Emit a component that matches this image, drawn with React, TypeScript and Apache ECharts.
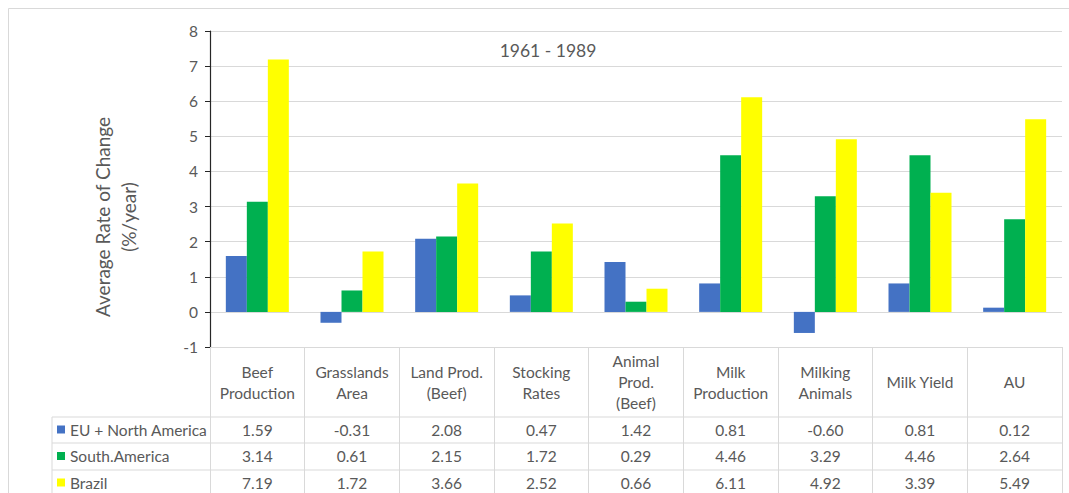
import React, { useEffect, useRef } from "react";
import * as echarts from "echarts";

const categories = [
  "Beef\nProduction",
  "Grasslands\nArea",
  "Land Prod.\n(Beef)",
  "Stocking\nRates",
  "Animal\nProd.\n(Beef)",
  "Milk\nProduction",
  "Milking\nAnimals",
  "Milk Yield",
  "AU",
];
const seriesNames = ["EU + North America", "South.America", "Brazil"];
const euNorthAmerica = [1.59, -0.31, 2.08, 0.47, 1.42, 0.81, -0.6, 0.81, 0.12];
const southAmerica = [3.14, 0.61, 2.15, 1.72, 0.29, 4.46, 3.29, 4.46, 2.64];
const brazil = [7.19, 1.72, 3.66, 2.52, 0.66, 6.11, 4.92, 3.39, 5.49];
const seriesColors = ["#4472C4", "#00B050", "#FFFF00"];
const chartTitle = "1961 - 1989";
const yTitle = "Average Rate of Change\n(%/year)";

export default function App() {
  const ref = useRef<HTMLDivElement>(null);
  useEffect(() => {
    if (!ref.current) return;
    const chart = echarts.init(ref.current, undefined, { renderer: "svg" });
    const W = 1069;
    const H = 493;
    const gridLeft = 210;
    const gridRight = 1062;
    const gridTop = 31;
    const axisY = 347;
    const colW = (gridRight - gridLeft) / categories.length;
    const tableLeft = 52;
    const rowLines = [417, 443, 470, 496];
    const textColor = "#595959";
    const lineColor = "#d9d9d9";
    const font = "Lato, 'Open Sans', sans-serif";
    const allSeries = [euNorthAmerica, southAmerica, brazil];

    const graphics: any[] = [];
    // outer border
    graphics.push({
      type: "rect",
      shape: { x: 8.5, y: 8.5, width: 1080, height: 500 },
      style: { fill: "none", stroke: "#d9d9d9", lineWidth: 1 },
      silent: true,
    });
    // horizontal table lines
    rowLines.forEach((y) => {
      graphics.push({
        type: "line",
        shape: { x1: tableLeft, y1: y, x2: gridRight, y2: y },
        style: { stroke: lineColor, lineWidth: 1 },
        silent: true,
      });
    });
    // left vertical line of legend column
    graphics.push({
      type: "line",
      shape: { x1: tableLeft, y1: rowLines[0], x2: tableLeft, y2: H + 5 },
      style: { stroke: lineColor, lineWidth: 1 },
      silent: true,
    });
    // rows
    allSeries.forEach((vals, r) => {
      const yc = (rowLines[r] + rowLines[r + 1]) / 2 - 0.5;
      graphics.push({
        type: "rect",
        shape: { x: 57, y: yc - 4, width: 8, height: 8 },
        style: { fill: seriesColors[r] },
        silent: true,
      });
      graphics.push({
        type: "text",
        x: 70,
        y: yc,
        style: {
          text: seriesNames[r],
          fill: textColor,
          font: `15.5px ${font}`,
          textAlign: "left",
          textVerticalAlign: "middle",
        },
        silent: true,
      });
      vals.forEach((v, i) => {
        graphics.push({
          type: "text",
          x: gridLeft + (i + 0.5) * colW,
          y: yc,
          style: {
            text: v.toFixed(2),
            fill: textColor,
            font: `15.5px ${font}`,
            textAlign: "center",
            textVerticalAlign: "middle",
          },
          silent: true,
        });
      });
    });
    // title
    graphics.push({
      type: "text",
      x: 548,
      y: 50,
      style: {
        text: chartTitle,
        fill: textColor,
        font: `17.5px ${font}`,
        textAlign: "center",
        textVerticalAlign: "middle",
      },
      silent: true,
    });
    // y axis title
    graphics.push({
      type: "text",
      x: 115,
      y: 217,
      rotation: Math.PI / 2,
      style: {
        text: yTitle,
        fill: textColor,
        font: `19px ${font}`,
        lineHeight: 26,
        textAlign: "center",
        textVerticalAlign: "middle",
      },
      silent: true,
    });

    chart.setOption({
      animation: false,
      backgroundColor: "#ffffff",
      grid: {
        left: gridLeft,
        right: W - gridRight,
        top: gridTop,
        bottom: H - axisY,
        containLabel: false,
      },
      xAxis: {
        type: "category",
        data: categories,
        position: "bottom",
        axisLine: { onZero: false, lineStyle: { color: lineColor, width: 1 } },
        axisTick: {
          show: true,
          alignWithLabel: false,
          inside: false,
          length: 160,
          lineStyle: { color: lineColor, width: 1 },
        },
        axisLabel: {
          interval: 0,
          margin: 35,
          verticalAlign: "middle",
          color: textColor,
          fontSize: 15.5,
          lineHeight: 21,
          fontFamily: font,
        },
        splitLine: { show: false },
      },
      yAxis: {
        type: "value",
        min: -1,
        max: 8,
        interval: 1,
        axisLine: { show: true, lineStyle: { color: "#262626", width: 1.2 } },
        axisTick: { show: true, inside: false, length: 5, lineStyle: { color: "#262626" } },
        axisLabel: { color: textColor, fontSize: 15.5, fontFamily: font, margin: 12 },
        splitLine: { lineStyle: { color: lineColor, width: 1 } },
      },
      series: allSeries.map((vals, k) => ({
        type: "bar",
        name: seriesNames[k],
        data: vals,
        barWidth: 21,
        barGap: "0%",
        itemStyle: { color: seriesColors[k] },
      })),
      graphic: graphics,
    });
    return () => chart.dispose();
  }, []);
  return (
    <div
      ref={ref}
      style={{ position: "absolute", left: 0, top: 0, width: 1069, height: 493 }}
    />
  );
}
